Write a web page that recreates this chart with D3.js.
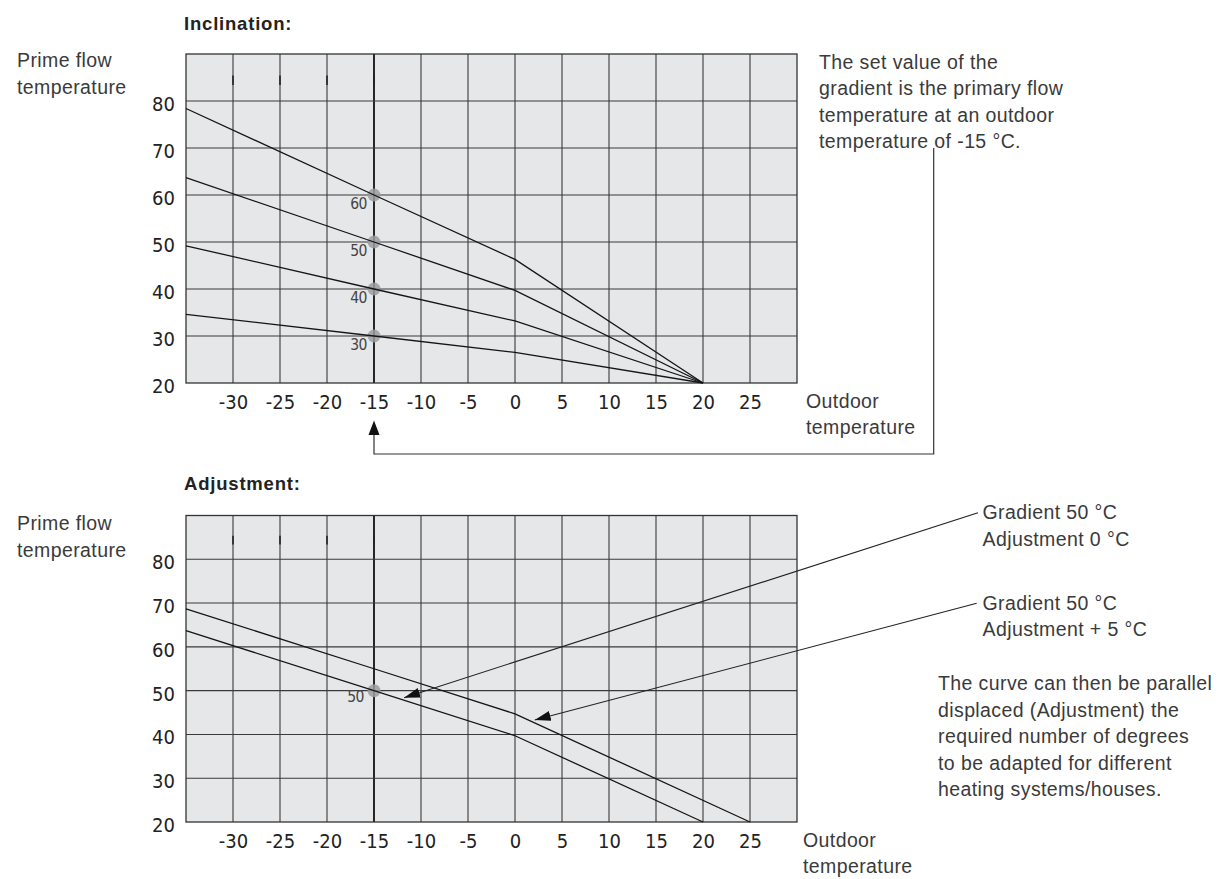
<!DOCTYPE html>
<html>
<head>
<meta charset="utf-8">
<script src="https://cdn.jsdelivr.net/npm/d3@7"></script>
<style>
  body { margin: 0; background: #fff; }
  svg { display: block; }
  .txt { font-family: "Liberation Sans", Arial, sans-serif; font-size: 19.5px; letter-spacing: 0.4px; fill: #3a3a3a; }
  .head { font-family: "Liberation Sans", Arial, sans-serif; font-size: 18.5px; letter-spacing: 0.8px; font-weight: bold; fill: #222; }
  .tick text { font-family: "DejaVu Sans Condensed", "DejaVu Sans", sans-serif; font-stretch: condensed; font-size: 20px; fill: #222; }
  .ptlabel { font-family: "DejaVu Sans Condensed", "DejaVu Sans", sans-serif; font-stretch: condensed; font-size: 15.5px; letter-spacing: -0.5px; }
</style>
</head>
<body>
<svg width="1220" height="879"></svg>
<script>
// axis ticks
var xTicks = [-30, -25, -20, -15, -10, -5, 0, 5, 10, 15, 20, 25];
var yTicks = [20, 30, 40, 50, 60, 70, 80];
var xGrid = [-30, -25, -20, -15, -10, -5, 0, 5, 10, 15, 20, 25];
var yGrid = [30, 40, 50, 60, 70, 80];

// inclination curves, set value at -15 °C, break at 0 °C
var curveX = [-35, -15, 0, 20];
var curve30 = [34.6, 30, 26.5, 20];
var curve40 = [49.2, 40, 33.2, 20];
var curve50 = [63.7, 50, 39.7, 20];
var curve60 = [78.4, 60, 46.3, 20];
var setValues = [30, 40, 50, 60];

// adjustment curves (gradient 50, adjustment 0 and +5)
var adj0X = [-35, -15, 0, 20];
var adj0 = [63.7, 50, 39.7, 20];
var adj5X = [-35, -15, 0, 25];
var adj5 = [68.7, 55, 44.7, 20];

// arrow tips of the two callouts in the lower chart
var calloutTips = [[-11.8, 48.4], [2.1, 43.3]];

var svg = d3.select("svg");

var x = d3.scaleLinear().domain([-35, 30]).range([186, 797]);

var defs = svg.append("defs");
defs.append("marker")
  .attr("id", "arr")
  .attr("markerUnits", "userSpaceOnUse")
  .attr("viewBox", "0 0 16 10")
  .attr("refX", 16).attr("refY", 5)
  .attr("markerWidth", 16).attr("markerHeight", 10)
  .attr("orient", "auto")
  .append("path").attr("d", "M0,0 L16,5 L0,10 Z").attr("fill", "#111");

function panel(yTop, yBottom) {
  var y = d3.scaleLinear().domain([20, 90]).range([yBottom, yTop]);
  var g = svg.append("g");

  g.append("rect")
    .attr("x", x(-35)).attr("y", y(90))
    .attr("width", x(30) - x(-35)).attr("height", y(20) - y(90))
    .attr("fill", "#e6e7e9");

  g.selectAll(".vg").data(xGrid).enter().append("line")
    .attr("x1", d => x(d)).attr("x2", d => x(d))
    .attr("y1", y(90)).attr("y2", y(20))
    .attr("stroke", d => d == -15 ? "#111" : "#3a3a3a")
    .attr("stroke-width", d => d == -15 ? 1.8 : 1.1);

  g.selectAll(".hg").data(yGrid).enter().append("line")
    .attr("x1", x(-35)).attr("x2", x(30))
    .attr("y1", d => y(d)).attr("y2", d => y(d))
    .attr("stroke", "#3a3a3a").attr("stroke-width", 1.1);

  // small dark marks in top row
  g.selectAll(".mk").data([-30, -25, -20, -15]).enter().append("line")
    .attr("x1", d => x(d)).attr("x2", d => x(d))
    .attr("y1", y(85.4)).attr("y2", y(83.4))
    .attr("stroke", "#222").attr("stroke-width", 1.6);

  g.append("rect")
    .attr("x", x(-35)).attr("y", y(90))
    .attr("width", x(30) - x(-35)).attr("height", y(20) - y(90))
    .attr("fill", "none").attr("stroke", "#333").attr("stroke-width", 1.3);

  var ax = g.append("g")
    .attr("transform", "translate(0," + (y(20) + 8) + ")")
    .call(d3.axisBottom(x).tickValues(xTicks).tickSize(0).tickPadding(0).tickFormat(d => String(d)));
  ax.select(".domain").remove();
  ax.selectAll("text").attr("dy", "0.9em");

  var ay = g.append("g")
    .attr("transform", "translate(" + (x(-35) - 11) + ",3)")
    .call(d3.axisLeft(y).tickValues(yTicks).tickSize(0).tickPadding(0));
  ay.select(".domain").remove();

  return { g: g, y: y };
}

var line = function(y) {
  return d3.line().x(d => x(d[0])).y(d => y(d[1]));
};

// ---------- Inclination ----------
var incl = panel(54, 383);

incl.g.selectAll(".dot").data(setValues).enter().append("circle")
  .attr("cx", x(-15)).attr("cy", d => incl.y(d)).attr("r", 6.5)
  .attr("fill", "#9c9c9c").attr("opacity", 0.85);

[curve30, curve40, curve50, curve60].forEach(function(c) {
  incl.g.append("path")
    .datum(d3.zip(curveX, c))
    .attr("d", line(incl.y))
    .attr("fill", "none").attr("stroke", "#151515").attr("stroke-width", 1.3);
});

incl.g.selectAll(".pl").data(setValues).enter().append("text")
  .attr("class", "ptlabel")
  .attr("x", x(-15) - 7).attr("y", d => incl.y(d) + 14)
  .attr("text-anchor", "end").attr("fill", "#444")
  .text(d => d);

// ---------- Adjustment ----------
var adj = panel(515.5, 822);

adj.g.append("circle")
  .attr("cx", x(-15)).attr("cy", adj.y(50)).attr("r", 6.5)
  .attr("fill", "#9c9c9c").attr("opacity", 0.85);

[[adj0X, adj0], [adj5X, adj5]].forEach(function(c) {
  adj.g.append("path")
    .datum(d3.zip(c[0], c[1]))
    .attr("d", line(adj.y))
    .attr("fill", "none").attr("stroke", "#151515").attr("stroke-width", 1.3);
});

adj.g.append("text").attr("class", "ptlabel")
  .attr("x", x(-15) - 10).attr("y", adj.y(50) + 11)
  .attr("text-anchor", "end").attr("fill", "#444").text("50");

// callouts
var starts = [[978, 512.7], [976.7, 603.3]];
calloutTips.forEach(function(t, i) {
  svg.append("line")
    .attr("x1", starts[i][0]).attr("y1", starts[i][1])
    .attr("x2", x(t[0])).attr("y2", adj.y(t[1]))
    .attr("stroke", "#222").attr("stroke-width", 1.1)
    .attr("marker-end", "url(#arr)");
});

// bracket arrow from text to -15
var bx = 933.7, by = 454;
svg.append("path")
  .attr("d", "M" + bx + ",148 L" + bx + "," + by + " L" + x(-15) + "," + by + " L" + x(-15) + ",434")
  .attr("fill", "none").attr("stroke", "#333").attr("stroke-width", 1.2);
svg.append("path")
  .attr("d", "M" + x(-15) + ",420.5 L" + (x(-15) + 5.5) + ",435 L" + (x(-15) - 5.5) + ",435 Z")
  .attr("fill", "#111");

// ---------- texts ----------
function block(xp, y0, dy, lines, cls) {
  var t = svg.append("text").attr("class", cls || "txt");
  lines.forEach(function(s, i) {
    t.append("tspan").attr("x", xp).attr("y", y0 + i * dy).text(s);
  });
}

svg.append("text").attr("class", "head").attr("x", 184).attr("y", 30).text("Inclination:");
svg.append("text").attr("class", "head").attr("x", 184).attr("y", 490).text("Adjustment:");

block(17, 67, 26.5, ["Prime flow", "temperature"]);
block(17, 530, 26.5, ["Prime flow", "temperature"]);
block(806, 408, 25.5, ["Outdoor", "temperature"]);
block(803, 846.7, 26.3, ["Outdoor", "temperature"]);

block(819, 69, 26.4, ["The set value of the", "gradient is the primary flow",
  "temperature at an outdoor", "temperature of -15 °C."]);

block(982.5, 519.3, 26.7, ["Gradient 50 °C", "Adjustment 0 °C"]);
block(982.5, 610, 26.3, ["Gradient 50 °C", "Adjustment + 5 °C"]);
block(938, 690, 26.5, ["The curve can then be parallel", "displaced (Adjustment) the",
  "required number of degrees", "to be adapted for different", "heating systems/houses."]);
</script>
</body>
</html>
